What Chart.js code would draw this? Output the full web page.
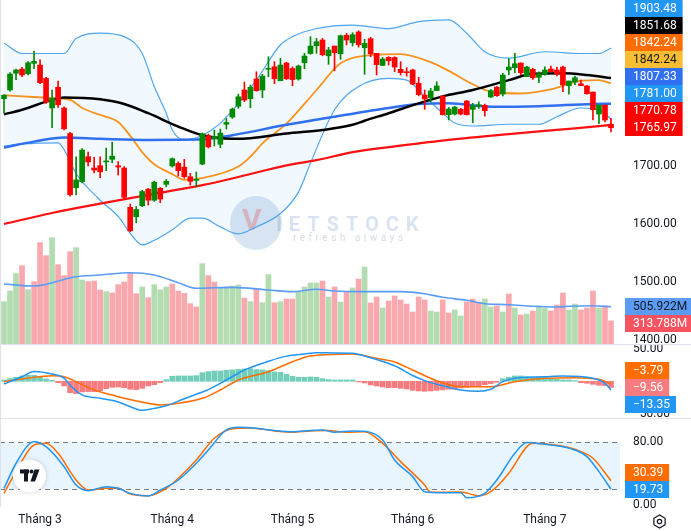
<!DOCTYPE html>
<html>
<head>
<meta charset="utf-8">
<script src="https://cdn.jsdelivr.net/npm/chart.js@4.4.1/dist/chart.umd.min.js"></script>
<style>
  html, body { margin: 0; padding: 0; background: #fff; }
  #wrap { position: relative; width: 691px; height: 531px; overflow: hidden; }
  #wrap canvas { position: absolute; left: 0; }
  .hline { position: absolute; left: 0; width: 691px; height: 1px; background: #e0e3eb; }
  .vline { position: absolute; left: 0; top: 0; width: 1px; height: 507px; background: #e0e3eb; }
  #wm { position: absolute; left: 230px; top: 196px; width: 200px; height: 58px; }
  #wm .circle { position: absolute; left: 0; top: 0; width: 52px; height: 54px; border-radius: 50%; background: rgba(120, 160, 210, 0.28); }
  #wm .v { position: absolute; left: 12px; top: 6px; font: bold 30px Roboto, sans-serif; color: rgba(235, 80, 80, 0.32); }
  #wm .name { position: absolute; left: 46px; top: 16px; font: bold 20px Roboto, sans-serif; letter-spacing: 7px; color: rgba(90, 130, 190, 0.24); white-space: nowrap; }
  #wm .tag { position: absolute; left: 63px; top: 36px; font: 10px Roboto, sans-serif; letter-spacing: 3.5px; color: rgba(110, 130, 160, 0.3); white-space: nowrap; }
</style>
</head>
<body>
<div id="wrap">
  <div id="wm"><div class="circle"></div><div class="v">V</div><div class="name">IETSTOCK</div><div class="tag">refresh always</div></div>
  <canvas id="price" width="691" height="344" style="top:0"></canvas>
  <canvas id="macd" width="691" height="74" style="top:344px"></canvas>
  <canvas id="stoch" width="691" height="113" style="top:418px"></canvas>
  <div class="hline" style="top:344px"></div>
  <div class="hline" style="top:418px"></div>
  <div class="vline"></div>
</div>
<script>
// ---- data ----
const monthIdx = [6, 28, 48, 68, 90];
const monthNames = ['Tháng 3', 'Tháng 4', 'Tháng 5', 'Tháng 6', 'Tháng 7'];

const open = [1816,1831,1860,1867,1859,1877,1874,1851,1800,1835.6,
  1800,1756,1662.5,1673,1716,1696.5,1700.5,1707,1711.5,1700.5,
  1696.5,1628.7,1612.5,1631.5,1660,1641,1661.5,1668.4,1700,1704.6,
  1698,1681.5,1675.3,1703.4,1752,1747,1737.4,1772,1784.4,1803,
  1831,1816,1850,1831,1866.7,1871,1847,1877.5,1868,1850,
  1878,1894,1907.4,1917.2,1890,1906.8,1893.5,1925.3,1912.5,1931,
  1903.9,1919.5,1894.3,1873.5,1887.3,1887,1866.7,1862,1865.5,1842.5,
  1822.3,1817.7,1830,1820.6,1788.4,1789.6,1797.7,1812,1797.7,1803.5,
  1804.6,1819,1836,1824,1865.5,1869.4,1877.5,1854,1866.7,1852.9,
  1858,1867.2,1865.5,1870.6,1838.4,1844.8,1841.8,1838,1827.5,1789.6,
  1805,1772];
const high = [1823,1861,1867,1870,1880,1898,1883,1853,1831,1846.5,
  1802,1758,1716,1730,1724,1715,1716,1731,1741,1707.4,
  1699,1634.4,1630,1658,1661.5,1674,1663,1677,1714,1707.4,
  1711.5,1687.3,1689.6,1757,1755,1762,1763.7,1782,1800,1824,
  1844.8,1839.6,1862.5,1858,1888.4,1879.8,1885.6,1879,1871,1874,
  1894.3,1922.9,1920,1920,1904.6,1906.8,1925.8,1928.7,1929.8,1933,
  1918.4,1921.8,1894.3,1887,1888.4,1888.4,1879.8,1869.5,1867,1853,
  1831,1834,1845.3,1821,1801,1803,1799.4,1813,1808,1810.8,
  1806.8,1832,1837,1859.8,1885,1894.3,1878,1872,1868.4,1862.5,
  1871,1872.4,1870.6,1872.4,1846.5,1855,1848.2,1839,1827.5,1805,
  1805,1782.2];
const low = [1791,1829,1849,1854,1857,1868,1842,1808,1766,1801,
  1762,1648,1650,1671,1700,1688,1680,1692,1705.6,1684.4,
  1644,1586.7,1602,1629.8,1632.7,1639,1636.7,1664,1698,1682.7,
  1678.7,1667,1664.3,1702,1731,1734.4,1731.5,1763.7,1782,1799.4,
  1810.8,1800.4,1829,1817.7,1854,1842,1847,1849,1838.4,1848,
  1867.7,1892.5,1894.3,1890,1875.3,1864.2,1883.9,1908.6,1906.8,1905,
  1858,1888.4,1857,1873,1874,1862.5,1856.8,1855,1840,1821,
  1797.7,1810.8,1829.8,1788,1779.3,1788,1788,1788,1774.6,1799.4,
  1786,1818,1820,1820.6,1857.3,1861,1857,1853.9,1849.4,1843.6,
  1856.8,1862,1855.1,1828,1824,1840.1,1838.4,1824,1779.3,1772.9,
  1775.8,1758.6];
const close = [1822,1858.6,1865.5,1857,1878,1880.5,1843.6,1810,1817,1805.6,
  1764,1650.5,1676,1727.5,1707,1693,1690,1708.6,1717,1698.2,
  1646,1588.4,1625,1656,1641,1672,1643,1673.6,1712.6,1692,
  1681.5,1673.6,1677,1755.6,1733,1750.5,1756.8,1775,1798,1819.4,
  1813.7,1835.6,1830,1855,1868.4,1850.4,1874,1850.4,1849,1872.4,
  1889.6,1906.8,1914.3,1891.8,1900,1895.3,1924.6,1917.2,1926.3,1909.1,
  1911.4,1893.5,1874.8,1884.4,1881.5,1870.6,1861,1860.8,1841.3,1823,
  1815.5,1829.3,1838,1788.4,1798.2,1801.6,1789.6,1788.4,1803.9,1805.6,
  1795.3,1829.8,1821.2,1856.8,1870.6,1876.3,1860.8,1870.6,1852.2,1859,
  1865.5,1862.5,1858.6,1840,1846.5,1852.2,1838.4,1824.6,1797,1805,
  1779.3,1765.97];

// volume in millions, and bar colour as drawn (g = green, p = pink)
const volume = [576,721,957,1066,739,848,1379,1202,1447,1079,
  930,1256,1311,871,848,857,735,712,694,807,
  844,971,685,776,630,807,735,776,816,721,
  689,549,503,1093,930,844,757,776,789,803,
  626,576,744,562,943,562,576,612,612,703,
  776,830,830,857,639,776,571,707,762,884,
  1048,558,639,490,585,653,599,544,435,639,
  599,449,435,599,422,463,381,571,612,571,
  612,503,517,435,680,490,395,408,449,517,
  490,449,531,694,463,544,463,490,721,490,
  517,313.788];
const volDir = 'gggpgpppgp' + 'ppggpppgpp' + 'pppgpgggpp' + 'pppgppgggg' + 'pgpggpgppg' +
               'gggpgpgpgp' + 'gppgpppppp' + 'pggppggppp' + 'ggpgpgpgpg' + 'gpppggpppg' + 'pp';
const volMaPts = [[0,816],[5,789],[12,916],[16,939],[21,970],[25,939],[29,834],[32,758],[38,771],[44,735],
  [48,712],[52,744],[55,721],[59,712],[66,712],[70,684],[73,635],[77,595],[80,548],[84,535],
  [88,513],[92,503],[94,513],[98,521],[101,505.922]];

// overlays, read at [bar index, value]
const ma50Pts = [[0,1789],[3,1797],[8,1814],[10,1818],[16,1815],[20,1807],[24,1791],[29,1768],[33,1753],[38,1747],
  [41,1748],[47,1756],[53,1762],[58,1771],[60,1778],[64,1791],[69,1808],[73,1820],[78,1831],[84,1848],
  [88,1859],[93,1860],[97,1857],[101,1851.68]];
const bbBasisPts = [[0,1822],[5,1819],[8,1817],[11,1814],[13,1800],[16,1788],[19,1776],[21,1752],[23,1724],[25,1703],
  [28,1686],[30,1676],[33,1679],[39,1699],[41,1716],[43,1739],[47,1773],[52,1831],[56,1877],[61,1891],
  [66,1893],[71,1879],[74,1864],[78,1841],[81,1828],[86,1825],[91,1832],[96,1847],[99,1848],[101,1842.24]];
const ma100Pts = [[0,1732],[5,1742],[10,1749],[16,1747],[24,1745],[33,1746],[38,1753],[47,1771],[55,1785],[64,1800],
  [69,1807],[74,1808],[81,1802],[89,1803],[98,1807],[101,1807.33]];
const ma200Pts = [[0,1600],[8,1619],[16,1635],[25,1652],[33,1667],[39,1681],[47,1701],[52,1710],[58,1724],[66,1735],
  [74,1745],[84,1755],[95,1765],[101,1770.78]];
const bbUpperPts = [[0,1912],[3,1894],[10,1894],[12,1920],[16,1929],[20,1923],[23,1894],[25,1837],[27,1791],[28,1762],
  [30,1745],[33,1753],[36,1774],[39,1808],[42,1848],[46,1909],[48,1923],[52,1937],[58,1943],[64,1937],
  [69,1949],[74,1952],[77,1929],[80,1897],[84,1886],[90,1897],[96,1894],[99,1894],[101,1903.48]];
const bbLowerPts = [[0,1734.5],[3,1738],[9,1740],[10,1728],[12,1687],[16,1641],[19,1613],[21,1584],[23,1564],[25,1572],
  [28,1590],[31,1610],[33,1610],[36,1595],[39,1583],[42,1595],[46,1618],[49,1655],[51,1705],[55,1797],
  [59,1837],[64,1851],[67,1848],[70,1820],[73,1791],[75,1774],[78,1769],[84,1772],[89,1772],[92,1785],
  [96,1800],[99,1797],[101,1781]];

const macdHist = [2.1,4.1,6.2,8.3,9.3,9.3,7.2,3.6,1.6,-2.1,
  -7.2,-17.6,-19.1,-16.5,-16.0,-16.0,-14.5,-11.4,-9.3,-8.8,
  -9.8,-12.4,-12.9,-10.9,-7.2,-5.2,-2.1,2.6,7.8,8.3,
  8.3,8.3,8.8,13.4,15.0,16.0,16.0,17.1,17.6,18.6,
  19.1,19.6,18.1,17.6,16.5,14.5,14.0,10.9,7.8,6.2,
  6.2,6.7,6.2,4.1,2.6,2.1,2.1,2.1,2.1,-1.0,
  -2.6,-5.7,-7.2,-8.8,-9.8,-9.8,-10.9,-11.9,-14.0,-15.0,
  -15.5,-15.0,-14.0,-13.4,-12.4,-11.9,-10.3,-9.3,-8.3,-6.7,
  -5.2,-3.6,-1.6,4.1,6.2,8.3,8.3,7.2,6.7,6.7,
  5.7,4.1,3.1,2.1,2.1,1.0,-2.1,-3.1,-4.7,-6.2,
  -6.7,-9.56];
const macdPts = [[0,-4.2],[3,7.1],[5,15.2],[8,11.3],[10,5],[11,-6],[13,-21],[16,-26.4],[19,-32],[21,-39.4],
  [23,-45],[25,-42],[27,-38],[30,-27],[32,-20],[34,-13],[37,2],[40,17.5],[44,31],[47,39],
  [50,42.3],[52,44.3],[55,43.8],[58,43.4],[60,39.2],[65,24],[68,9],[70,1],[73,-7],[76,-13.5],
  [79,-15.5],[81,-12.4],[83,-0.6],[85,4.7],[90,7.1],[93,8.2],[98,4.7],[100,-3.1],[101,-13.35]];
const signalPts = [[0,-0.6],[4,5],[8,8.7],[10,7.1],[12,-0.6],[15,-13.5],[18,-21.2],[20,-26.4],[24,-34.1],[26,-36.7],
  [29,-34.1],[33,-26.4],[36,-13.5],[39,2],[44,14.9],[48,30.4],[51,39.2],[56,41.9],[58,42.3],[62,35.7],
  [65,30],[68,17.5],[72,0.9],[76,-8.4],[81,-8.4],[85,-0.6],[90,4.7],[95,5.6],[99,3.1],[101,-3.79]];

const stochKPts = [[0,20.9],[2,52.6],[5,80],[7,73.7],[10,48.3],[12,25.1],[14,17.9],[17,23],[19,20.9],[21,14.5],
  [24,11.1],[26,18.7],[29,31.4],[32,52.6],[34,69.5],[37,94.8],[39,98.2],[42,96.9],[45,94.3],[48,92.7],
  [51,94.3],[53,94.8],[55,91.9],[58,93.6],[60,93.2],[63,82.1],[65,56.8],[68,35.7],[70,16.6],[73,15.3],
  [76,15.3],[77,9],[80,14.5],[82,31.4],[85,65.3],[87,78.8],[90,76.7],[93,73.7],[95,69.5],[97,61.1],
  [99,42],[101,19.73]];
const stochDPts = [[0,14.5],[2,42],[5,75.8],[7,77.9],[9,65.3],[12,31.4],[14,18.7],[17,20.9],[19,20.9],[21,13.7],
  [24,11.5],[27,20.9],[29,33.6],[32,56.8],[35,84.3],[38,96.5],[41,97.3],[45,93.6],[48,91.9],[51,93.6],
  [54,94],[57,91.9],[60,92.7],[63,77.9],[66,54.7],[70,25.1],[71,15.8],[76,16.2],[79,11.5],[81,16.6],
  [84,39.9],[87,73.7],[88,77.9],[92,75.4],[95,70.4],[98,59],[101,30.39]];

const priceTicks = [1400, 1500, 1600, 1700, 1800, 1900];
const macdTicks = [50, -50];
const stochTicks = [0, 20, 80];
const stochBand = [20, 80];

// last-value tags, top to bottom
const priceTagValues = [1903.48, 1851.68, 1842.24, 1842.24, 1807.33, 1781.00, 1770.78, 1765.97];
const volTagValues = [505.922, 313.788];
const macdTagValues = [-3.79, -9.56, -13.35];
const stochTagValues = [30.39, 19.73];

// ---- drawing ----
Chart.defaults.font.family = 'Roboto, "Noto Sans", sans-serif';
Chart.defaults.font.size = 12;
Chart.defaults.color = '#131722';
Chart.defaults.animation = false;
Chart.defaults.plugins.legend.display = false;
Chart.defaults.plugins.tooltip.enabled = false;

const N = 103; // one spare slot on the right
const labels = [];
for (let i = 0; i < N; i++) {
  const k = monthIdx.indexOf(i);
  labels.push(k >= 0 ? monthNames[k] : '');
}

function sparse(pts) {
  const a = new Array(N).fill(null);
  pts.forEach(p => { a[p[0]] = p[1]; });
  return a;
}

function lineDs(pts, color, width, order, extra) {
  return Object.assign({
    type: 'line', data: sparse(pts), borderColor: color, borderWidth: width,
    pointRadius: 0, spanGaps: true, cubicInterpolationMode: 'monotone', fill: false, order: order
  }, extra || {});
}

const fmt2 = v => (v < 0 ? '\u2212' : '') + Math.abs(v).toFixed(2);

function rightAxis(min, max, ticks, fmt) {
  return {
    position: 'right', min: min, max: max,
    grid: { display: false, drawTicks: false },
    border: { display: false },
    ticks: { padding: 13, color: '#131722', font: { size: 12 }, callback: v => fmt(v) },
    afterBuildTicks: s => { s.ticks = ticks.map(v => ({ value: v })); },
    afterFit: s => { s.width = 71; s.paddingTop = 0; s.paddingBottom = 0; }
  };
}

function hiddenX() {
  return { type: 'category', display: false, offset: true };
}

// tag boxes on the price scale, pushed apart like the original
function tagPlugin(axisId, values, colors, anchor, fmt) {
  return {
    id: 'tags_' + axisId,
    afterDraw(chart) {
      const sc = chart.scales[axisId];
      const ctx = chart.ctx;
      const items = values.map((v, i) => ({ v: v, bg: colors[i][0], fg: colors[i][1], y: sc.getPixelForValue(v) }));
      items[anchor].py = items[anchor].y;
      for (let i = anchor - 1; i >= 0; i--) items[i].py = Math.min(items[i].y, items[i + 1].py - 17);
      for (let i = anchor + 1; i < items.length; i++) items[i].py = Math.max(items[i].y, items[i - 1].py + 17);
      const x0 = chart.chartArea.right + 5;
      ctx.save();
      ctx.font = '12px Roboto, sans-serif';
      ctx.textBaseline = 'middle';
      items.forEach(it => {
        const txt = fmt(it.v);
        const w = ctx.measureText(txt).width + 14;
        ctx.fillStyle = it.bg;
        ctx.fillRect(x0, Math.round(it.py - 8.5), w, 17);
        ctx.fillStyle = it.fg;
        ctx.fillText(txt, x0 + 8, Math.round(it.py - 8.5) + 9);
      });
      ctx.restore();
    }
  };
}

const UP = '#008a00', DOWN = '#ff0000';
const candleColors = open.map((o, i) => close[i] >= o ? UP : DOWN);
const volColors = volume.map((v, i) => volDir[i] === 'g' ? '#b3dcb1' : '#f9a9ae');

new Chart(document.getElementById('price'), {
  data: {
    labels: labels,
    datasets: [
      { type: 'bar', data: open.map((o, i) => [o, close[i]]), backgroundColor: candleColors,
        barThickness: 5, grouped: false, minBarLength: 1, order: 0 },
      { type: 'bar', data: low.map((l, i) => [l, high[i]]), backgroundColor: candleColors,
        barThickness: 1, grouped: false, order: 1 },
      lineDs(ma50Pts, '#000000', 2.5, 2),
      lineDs(bbBasisPts, '#f7931e', 1.8, 3),
      lineDs(ma100Pts, '#2f6ff0', 2.5, 2),
      lineDs(ma200Pts, '#ff1010', 2.2, 2),
      lineDs(bbUpperPts, '#4ea6f0', 1.2, 5),
      lineDs(bbLowerPts, '#4ea6f0', 1.2, 5, { fill: { target: 6 }, backgroundColor: 'rgba(33,150,243,0.06)' }),
      lineDs(volMaPts, '#5b9cf6', 1.6, 9, { yAxisID: 'vol' }),
      { type: 'bar', yAxisID: 'vol', data: volume, backgroundColor: volColors,
        barThickness: 5, grouped: false, order: 10 }
    ]
  },
  options: {
    responsive: false,
    layout: { padding: { left: 1 } },
    scales: {
      x: hiddenX(),
      y: rightAxis(1393.1, 1986.2, priceTicks, v => v.toFixed(2)),
      vol: { axis: 'y', position: 'left', display: false, min: 0, max: 4680 }
    }
  },
  plugins: [
    tagPlugin('y', priceTagValues, [
      ['#2196f3', '#fff'], ['#000000', '#fff'], ['#ff6d00', '#fff'], ['#f9bd34', '#131722'],
      ['#2f6ff0', '#fff'], ['#2196f3', '#fff'], ['#ff0000', '#fff'], ['#ff0000', '#fff']
    ], priceTagValues.length - 1, fmt2),
    tagPlugin('vol', volTagValues, [['#5b9cf6', '#131722'], ['#f7525f', '#fff']], 0, v => v.toFixed(3) + 'M')
  ]
});

new Chart(document.getElementById('macd'), {
  data: {
    labels: labels,
    datasets: [
      lineDs(macdPts, '#2196f3', 1.5, 0),
      lineDs(signalPts, '#ff6d00', 1.5, 1),
      { type: 'bar', data: macdHist, backgroundColor: macdHist.map(v => v >= 0 ? '#72cdb9' : '#f77b7f'),
        barThickness: 5, grouped: false, order: 2 }
    ]
  },
  options: {
    responsive: false,
    layout: { padding: { left: 1 } },
    scales: { x: hiddenX(), y: rightAxis(-56.9, 57.8, macdTicks, fmt2) }
  },
  plugins: [
    tagPlugin('y', macdTagValues, [['#ff6d00', '#fff'], ['#f77b7f', '#fff'], ['#2196f3', '#fff']], 1, fmt2)
  ]
});

const bandPlugin = {
  id: 'band',
  beforeDatasetsDraw(chart) {
    const { ctx, chartArea: a } = chart;
    const y = chart.scales.y;
    const yTop = y.getPixelForValue(stochBand[1]), yBot = y.getPixelForValue(stochBand[0]);
    ctx.save();
    ctx.fillStyle = 'rgba(33,150,243,0.1)';
    ctx.fillRect(a.left - 1, yTop, a.right - a.left + 1, yBot - yTop);
    ctx.strokeStyle = '#787b86';
    ctx.lineWidth = 1;
    ctx.setLineDash([5, 4]);
    [yTop, yBot].forEach(yy => {
      ctx.beginPath();
      ctx.moveTo(a.left - 1, Math.round(yy) + 0.5);
      ctx.lineTo(a.right, Math.round(yy) + 0.5);
      ctx.stroke();
    });
    ctx.restore();
  }
};

const iconsPlugin = {
  id: 'icons',
  afterDraw(chart) {
    const ctx = chart.ctx;
    ctx.save();
    // TradingView badge
    ctx.shadowColor = 'rgba(0,0,0,0.18)';
    ctx.shadowBlur = 5;
    ctx.fillStyle = '#fff';
    ctx.beginPath();
    ctx.arc(29.5, 58, 16.5, 0, Math.PI * 2);
    ctx.fill();
    ctx.shadowBlur = 0;
    ctx.fillStyle = '#131722';
    ctx.fillRect(20, 51.5, 9, 4);
    ctx.fillRect(24, 51.5, 4, 12);
    ctx.beginPath();
    ctx.arc(31.5, 53.5, 2, 0, Math.PI * 2);
    ctx.fill();
    ctx.beginPath();
    ctx.moveTo(34.5, 51.5); ctx.lineTo(39.5, 51.5); ctx.lineTo(35, 63.5); ctx.lineTo(30.5, 63.5);
    ctx.closePath();
    ctx.fill();
    // settings glyph
    ctx.strokeStyle = '#131722';
    ctx.lineWidth = 1.2;
    ctx.beginPath();
    for (let k = 0; k < 6; k++) {
      const ang = Math.PI / 6 + k * Math.PI / 3;
      const px = 659.5 + 6.5 * Math.cos(ang), py = 103.5 + 6.5 * Math.sin(ang);
      if (k === 0) ctx.moveTo(px, py); else ctx.lineTo(px, py);
    }
    ctx.closePath();
    ctx.stroke();
    ctx.beginPath();
    ctx.arc(659.5, 103.5, 2.2, 0, Math.PI * 2);
    ctx.stroke();
    ctx.restore();
  }
};

new Chart(document.getElementById('stoch'), {
  data: {
    labels: labels,
    datasets: [
      lineDs(stochKPts, '#2196f3', 1.5, 0),
      lineDs(stochDPts, '#ff6d00', 1.5, 1)
    ]
  },
  options: {
    responsive: false,
    layout: { padding: { left: 1 } },
    scales: {
      x: {
        type: 'category', offset: true,
        grid: { display: false, drawTicks: false },
        border: { display: false },
        ticks: { autoSkip: false, maxRotation: 0, minRotation: 0, padding: 6, color: '#131722', font: { size: 12 } },
        afterFit: s => { s.height = 24; s.paddingLeft = 0; s.paddingRight = 0; }
      },
      y: rightAxis(-2.8, 110, stochTicks, fmt2)
    }
  },
  plugins: [
    bandPlugin,
    tagPlugin('y', stochTagValues, [['#ff6d00', '#fff'], ['#2196f3', '#fff']], 1, fmt2),
    iconsPlugin
  ]
});
</script>
</body>
</html>
